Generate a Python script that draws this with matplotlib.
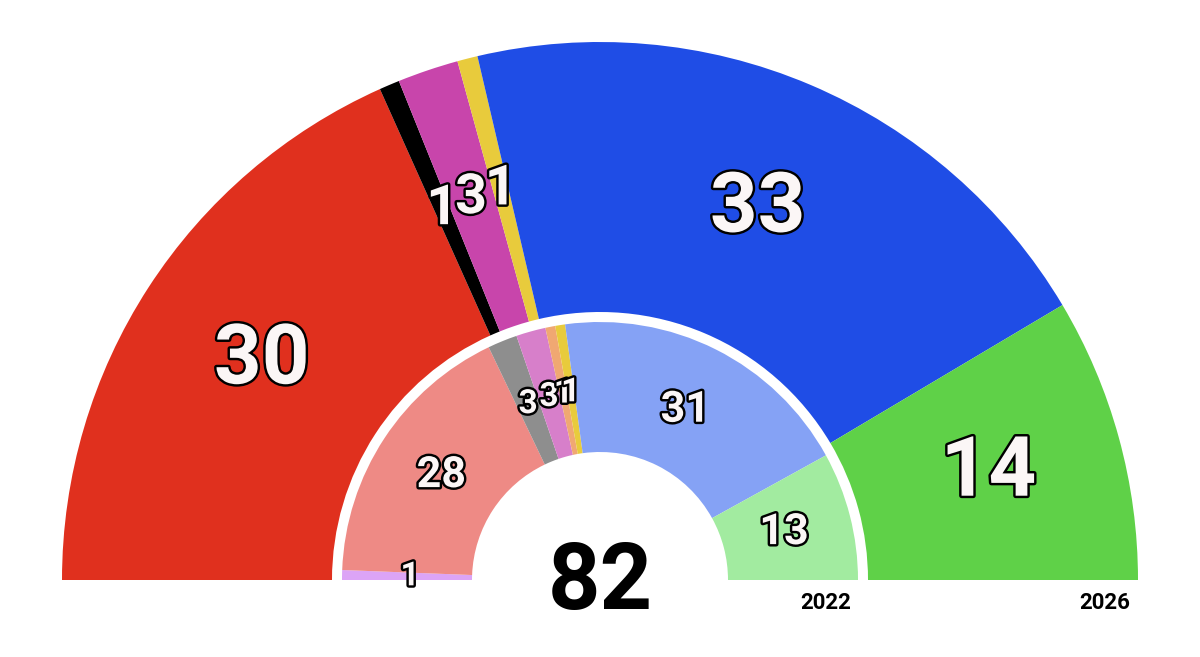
import matplotlib
matplotlib.use("Agg")
import matplotlib.pyplot as plt
import matplotlib.patheffects as pe
import numpy as np

# Data
outer_values = [30, 1, 3, 1, 33, 14]          # 2026
outer_colors = ["#E0301E", "#000000", "#C845AB", "#E8CB3C", "#1F4DE6", "#5FD148"]
inner_values = [1, 28, 3, 3, 1, 1, 31, 13]    # 2022
inner_colors = ["#DCA4F6", "#EE8A85", "#8E8E8E", "#D77FCA", "#F0A872", "#E8CB3C", "#85A2F5", "#A2EBA0"]
total_label = "82"
year_labels = ["2022", "2026"]

plt.rcParams['font.family'] = ['Roboto', 'DejaVu Sans']

fig = plt.figure(figsize=(12, 6.57), dpi=100)
ax = fig.add_axes([0, 0, 1, 1])

cx, cy = 600, 77
R_out, W_out = 538, 270
R_in, W_in = 258, 130

def ring(values, colors, radius, width):
    tot = sum(values)
    ax.pie(values + [tot], radius=radius, center=(cx, cy), startangle=180,
           counterclock=False, colors=colors + [(0, 0, 0, 0)],
           wedgeprops=dict(width=width, linewidth=0, antialiased=True))

ring(outer_values, outer_colors, R_out, W_out)
ring(inner_values, inner_colors, R_in, W_in)

stroke = [pe.withStroke(linewidth=3.5, foreground="black")]

def labels(values, radius, width, big, small, rshift=0):
    tot = sum(values)
    rmid = radius - width / 2 + rshift
    cum = 0
    for v in values:
        mid = 180 - (cum + v / 2) / tot * 180
        cum += v
        a = np.deg2rad(mid)
        fs = big if v >= 10 else small
        ax.text(cx + rmid * np.cos(a), cy + rmid * np.sin(a), str(v),
                ha="center", va="center", fontsize=fs, fontweight="bold",
                color="#FBF6F6", path_effects=stroke, zorder=5)

labels(outer_values, R_out, W_out, 60, 40)
labels(inner_values, R_in, W_in, 31, 24, rshift=-3)

ax.text(cx, cy - 3, total_label, ha="center", va="center", fontsize=66,
        fontweight="bold", color="black", zorder=6)
ax.text(826, 54, year_labels[0], ha="center", va="center", fontsize=16,
        fontweight="bold", color="black")
ax.text(1105, 54, year_labels[1], ha="center", va="center", fontsize=16,
        fontweight="bold", color="black")

ax.set_xlim(0, 1200)
ax.set_ylim(0, 657)
ax.set_aspect("equal")
ax.axis("off")
fig.savefig("out.png", dpi=100, facecolor="white")
